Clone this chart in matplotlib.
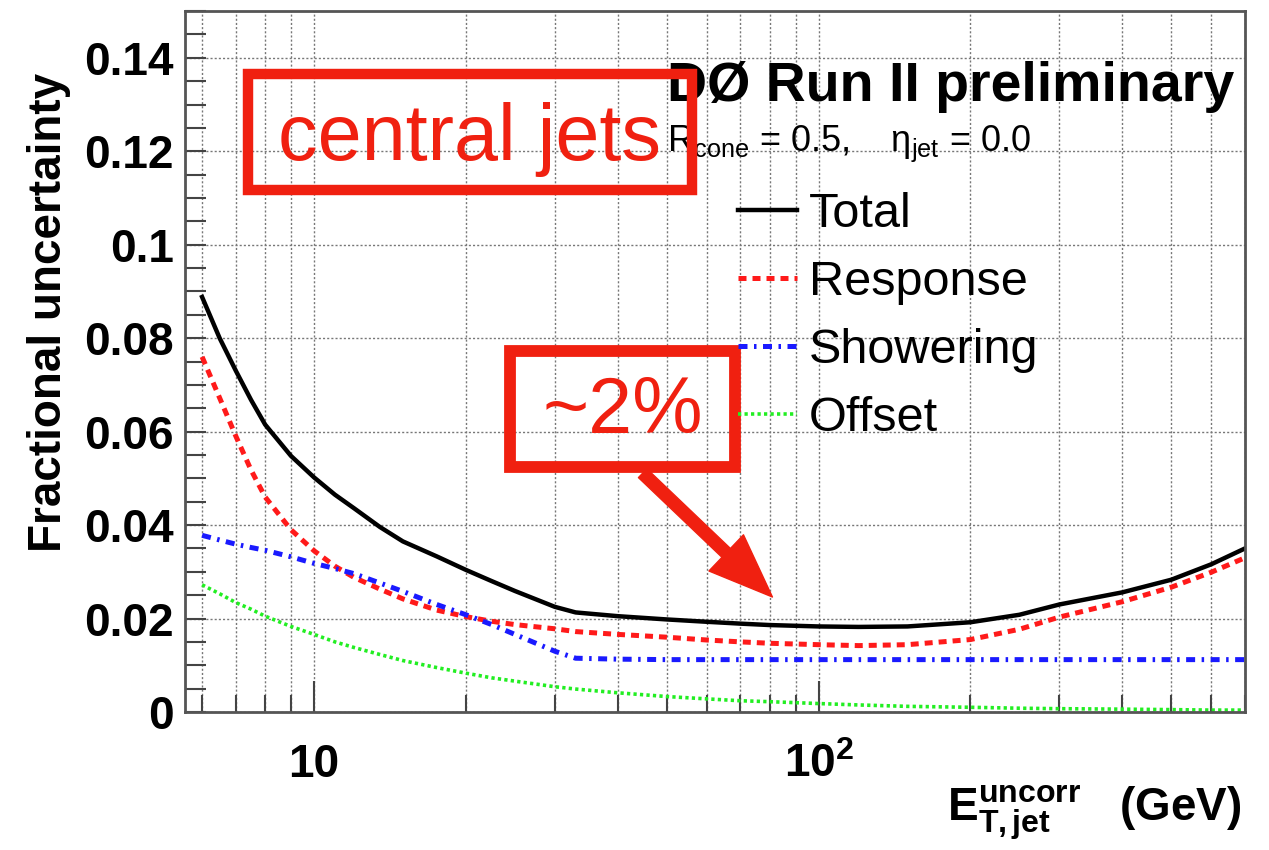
import matplotlib
matplotlib.use("Agg")
import matplotlib.pyplot as plt
from matplotlib.patches import Rectangle
from matplotlib.ticker import FixedLocator, NullFormatter, MultipleLocator

plt.rcParams['font.family'] = ['Liberation Sans', 'DejaVu Sans']
plt.rcParams['mathtext.fontset'] = 'custom'
plt.rcParams['mathtext.rm'] = 'Liberation Sans'
plt.rcParams['mathtext.bf'] = 'Liberation Sans:bold'
plt.rcParams['mathtext.it'] = 'Liberation Sans:italic'

RED = '#f02010'

# E_T (GeV) sample points
et = [6, 6.5, 7, 7.5, 8, 9, 10, 11, 12, 13.5, 15, 17.5, 20, 22.5, 25, 30, 33,
      40, 50, 60, 70, 80, 100, 120, 150, 200, 250, 300, 400, 500, 600, 700]

total = [0.0888, 0.0800, 0.0730, 0.0668, 0.0615, 0.0548, 0.0502, 0.0465, 0.0436,
         0.0396, 0.0365, 0.0333, 0.0304, 0.0280, 0.0259, 0.0225, 0.0213, 0.0205,
         0.0198, 0.0193, 0.0189, 0.0186, 0.0183, 0.0182, 0.0183, 0.0192, 0.0208,
         0.0230, 0.0256, 0.0283, 0.0316, 0.0350]
response = [0.0760, 0.0672, 0.0590, 0.0518, 0.0460, 0.0390, 0.0345, 0.0312, 0.0288,
            0.0263, 0.0242, 0.0218, 0.0204, 0.0194, 0.0187, 0.0178, 0.0172, 0.0166,
            0.0160, 0.0154, 0.0150, 0.0147, 0.0144, 0.0142, 0.0144, 0.0155, 0.0177,
            0.0203, 0.0236, 0.0267, 0.0299, 0.0330]
showering = [0.0378, 0.0368, 0.0359, 0.0352, 0.0346, 0.0332, 0.0318, 0.0307, 0.0296,
             0.0276, 0.0258, 0.0230, 0.0208, 0.0187, 0.0166, 0.0130, 0.0115, 0.0113,
             0.0112, 0.0112, 0.0112, 0.0112, 0.0112, 0.0112, 0.0112, 0.0112, 0.0112,
             0.0112, 0.0112, 0.0112, 0.0112, 0.0112]
offset = [0.0272, 0.0253, 0.0234, 0.0220, 0.0205, 0.0183, 0.0166, 0.0150, 0.0138,
          0.0123, 0.0110, 0.0095, 0.0083, 0.0073, 0.0066, 0.0054, 0.0049, 0.0041,
          0.0033, 0.0028, 0.0024, 0.0022, 0.0018, 0.0015, 0.0012, 0.0010, 0.0008,
          0.0007, 0.0006, 0.0005, 0.0004, 0.0004]

x_minor = [6, 7, 8, 9, 20, 30, 40, 50, 60, 70, 80, 90, 200, 300, 400, 500, 600, 700]
y_major = [0, 0.02, 0.04, 0.06, 0.08, 0.1, 0.12, 0.14]
y_labels = ['0', '0.02', '0.04', '0.06', '0.08', '0.1', '0.12', '0.14']

fig = plt.figure(figsize=(12.69, 8.5), dpi=100)
ax = fig.add_axes([0.1458, 0.1624, 0.8353, 0.8246])

l_tot, = ax.plot(et, total, color='black', lw=3.2, label='Total')
l_res, = ax.plot(et, response, color='#ff1a1a', lw=3.6, ls=(0, (1.6, 1.2)), label='Response')
l_sho, = ax.plot(et, showering, color='#1a1aff', lw=3.6, ls=(0, (1.8, 1.3, 0.5, 1.3)), label='Showering')
l_off, = ax.plot(et, offset, color='#22ee22', lw=2.6, ls=(0, (0.9, 0.9)), label='Offset')

ax.set_xscale('log')
ax.set_xlim(5.55, 700)
ax.set_ylim(0, 0.15)

ax.xaxis.set_major_locator(FixedLocator([10, 100]))
ax.xaxis.set_minor_locator(FixedLocator(x_minor))
ax.xaxis.set_minor_formatter(NullFormatter())
ax.set_xticklabels(['10', r'10$^{\mathbf{2}}$'])
ax.yaxis.set_major_locator(FixedLocator(y_major))
ax.yaxis.set_minor_locator(MultipleLocator(0.005))
ax.set_yticklabels(y_labels)

ax.tick_params(axis='both', which='both', direction='in', color='#444', width=1.5)
ax.tick_params(axis='y', which='both', length=15, labelsize=33, pad=8)
ax.tick_params(axis='x', which='major', length=22, labelsize=33, pad=22)
ax.tick_params(axis='x', which='minor', length=12)
for lab in ax.get_xticklabels() + ax.get_yticklabels():
    lab.set_fontweight('bold')

grid_kw = dict(color='#777', lw=1.0, ls=(0, (1.5, 1.5)))
ax.grid(True, axis='x', which='both', **grid_kw)
ax.grid(True, axis='y', which='major', **grid_kw)
ax.set_axisbelow(True)
for sp in ax.spines.values():
    sp.set_color('#555')
    sp.set_linewidth(2)

ax.set_ylabel('Fractional uncertainty', fontsize=33, fontweight='bold')
ax.yaxis.set_label_coords(-0.108, 0.57)
fig.text(0.978, 0.035, r'$\mathbf{E}_{\mathbf{T,jet}}^{\mathbf{uncorr}}$   (GeV)',
         fontsize=33, fontweight='bold', ha='right', va='baseline')

ax.text(0.455, 0.872, 'DØ Run II preliminary', transform=ax.transAxes,
        fontsize=40, fontweight='bold', ha='left', va='baseline')
ax.text(0.455, 0.80, r'R$_{\rm cone}$ = 0.5,    η$_{\rm jet}$ = 0.0', transform=ax.transAxes,
        fontsize=26, ha='left', va='baseline')

ax.legend(handles=[l_tot, l_res, l_sho, l_off], loc='upper left',
          bbox_to_anchor=(0.499, 0.776), frameon=False, fontsize=35,
          handlelength=1.2, handletextpad=0.25, labelspacing=0.47, borderpad=0)

# red annotation boxes
ax.add_patch(Rectangle((0.0594, 0.745), 0.4186, 0.165, transform=ax.transAxes,
                       fill=False, edgecolor=RED, lw=7.5, clip_on=False, zorder=5))
ax.text(0.268, 0.817, 'central jets', transform=ax.transAxes, color=RED,
        fontsize=57, ha='center', va='center', zorder=6)
ax.add_patch(Rectangle((0.307, 0.3495), 0.212, 0.1655, transform=ax.transAxes,
                       fill=False, edgecolor=RED, lw=8.5, clip_on=False, zorder=5))
ax.text(0.413, 0.427, '~2%', transform=ax.transAxes, color=RED,
        fontsize=57, ha='center', va='center', zorder=6)
ax.annotate('', xy=(81, 0.0246), xytext=(44.8, 0.0511),
            arrowprops=dict(arrowstyle='simple,head_length=1.15,head_width=0.9,tail_width=0.22',
                            color=RED, mutation_scale=40, shrinkA=0, shrinkB=0), zorder=6)

fig.savefig('out.png', dpi=100, facecolor='white')
